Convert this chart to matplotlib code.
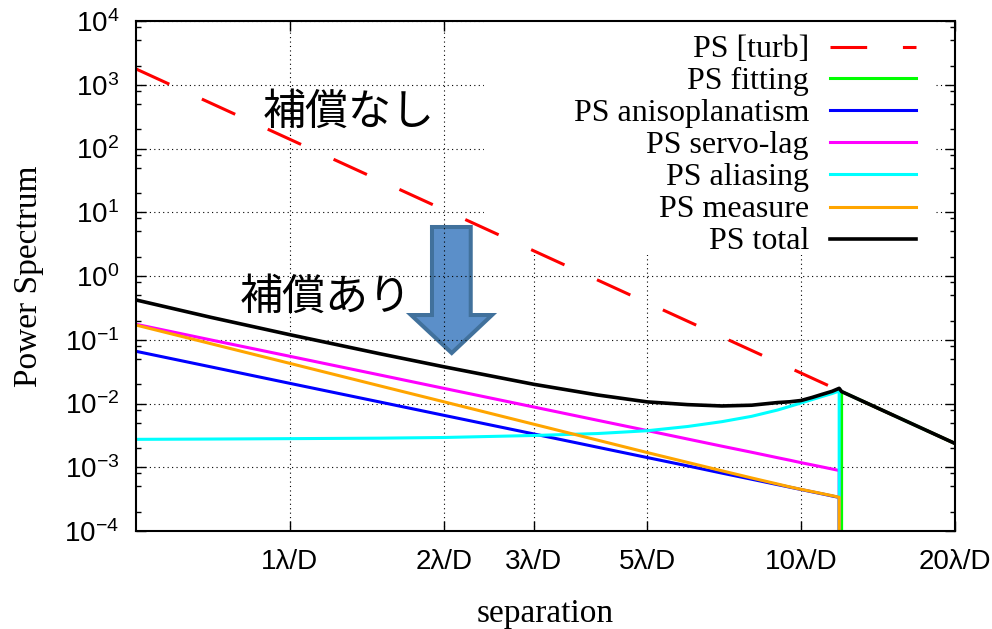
import matplotlib
matplotlib.use("Agg")
import matplotlib.pyplot as plt
from matplotlib.patches import Polygon, Rectangle
from matplotlib.ticker import LogLocator, NullFormatter, NullLocator

# separation in lambda/D
separation = [0.5, 0.7, 1, 1.5, 2, 3, 4, 5, 6, 7, 8, 9, 9.5, 10, 10.5, 11, 11.5, 11.87]
ps_aniso = [0.0659, 0.0376, 0.0207, 0.01055, 0.00653, 0.00333, 0.00206, 0.00142,
            0.00105, 0.000809, 0.000649, 0.000533, 0.000487, 0.000447, 0.000412,
            0.000382, 0.000354, 0.000336]
ps_servo = [0.175, 0.0995, 0.055, 0.028, 0.0173, 0.00881, 0.00545, 0.00376,
            0.00277, 0.00214, 0.00172, 0.00141, 0.00129, 0.00118, 0.00109,
            0.00101, 0.000938, 0.000889]
ps_measure = [0.170, 0.0869, 0.0426, 0.0189, 0.01065, 0.00473, 0.00266, 0.00170,
              0.00119, 0.00088, 0.00068, 0.000545, 0.000492, 0.00045, 0.000416,
              0.000385, 0.000358, 0.000338]
ps_alias = [0.00274, 0.00277, 0.00281, 0.00286, 0.00293, 0.00315, 0.00338, 0.00374,
            0.00436, 0.00519, 0.00629, 0.00791, 0.0090, 0.0102, 0.0115, 0.0129,
            0.01435, 0.0157]

total_x = separation + [12.0, 20]
ps_total = [0.421, 0.225, 0.120, 0.0603, 0.0377, 0.0200, 0.0136, 0.0106,
            0.0096, 0.00915, 0.0094, 0.01035, 0.01064, 0.01115, 0.01242, 0.01394,
            0.01553, 0.0173, 0.0154, 0.00236]

turb_x = [0.5, 20]
ps_turb = [1770, 0.00236]

fit_x = [12.0, 12.0, 20]
ps_floor = 1e-6   # "zero" on a log axis -> drawn down past the bottom
ps_fit = [ps_floor, 0.0154, 0.00236]

xtick_vals = [1, 2, 3, 5, 10, 20]
xtick_labels = ["1λ/D", "2λ/D", "3λ/D", "5λ/D", "10λ/D", "20λ/D"]

labels = ["PS [turb]", "PS fitting", "PS anisoplanatism", "PS servo-lag",
          "PS aliasing", "PS measure", "PS total"]
colors = ["#ff0000", "#00ff00", "#0000ff", "#ff00ff", "#00ffff", "#ffa500", "#000000"]

serif = "Liberation Serif"
sans = "Liberation Sans"
jp = "Noto Sans CJK JP"

fig = plt.figure(figsize=(9.92, 6.29), dpi=100)
ax = fig.add_axes([136 / 992, 1 - 531 / 629, 819 / 992, 510 / 629])
ax.set_xscale("log")
ax.set_yscale("log")
ax.set_xlim(0.5, 20)
ax.set_ylim(1e-4, 1e4)

lw = 2.2
dash = (12, 11.7)
ax.plot(turb_x, ps_turb, color=colors[0], lw=lw, dashes=dash, zorder=2)
ax.plot(fit_x, ps_fit, color=colors[1], lw=lw, zorder=2)
ax.plot(separation + [separation[-1]], ps_aniso + [ps_floor], color=colors[2], lw=lw, zorder=2)
ax.plot(separation + [separation[-1]], ps_servo + [ps_floor], color=colors[3], lw=lw, zorder=2)
ax.plot(separation + [separation[-1]], ps_alias + [ps_floor], color=colors[4], lw=lw, zorder=2)
ax.plot(separation + [separation[-1]], ps_measure + [ps_floor], color=colors[5], lw=lw, zorder=2)
ax.plot(total_x, ps_total, color=colors[6], lw=2.6, zorder=2)

# axes, ticks, grid
ax.set_xticks(xtick_vals, xtick_labels)
ax.xaxis.set_minor_locator(NullLocator())
ax.yaxis.set_major_locator(LogLocator(base=10, numticks=20))
ax.yaxis.set_minor_locator(LogLocator(base=10, subs=(2, 5, 8), numticks=20))
ax.yaxis.set_minor_formatter(NullFormatter())
ax.tick_params(which="both", direction="in", top=True, right=True, width=1,
               labelsize=20, labelfontfamily=sans)
ax.tick_params(which="major", length=7)
ax.tick_params(which="minor", length=3.5)
ax.tick_params(axis="x", pad=13)
ax.tick_params(axis="y", pad=12)
for s in ax.spines.values():
    s.set_linewidth(1.5)
ax.set_axisbelow(True)
ax.grid(True, which="major", color="black", lw=0.8, ls=(0, (1, 3)))

# white key area that hides the grid
ax.add_patch(Rectangle((0.425, 0.541), 0.551, 0.459, transform=ax.transAxes,
                       facecolor="white", edgecolor="none", zorder=0.8))

# gnuplot-like key: text right-aligned, sample to the right
row_px = [46.7, 78.3, 110.3, 142.3, 174.3, 206.7, 238.7]
for i, lab in enumerate(labels):
    yf = (531 - row_px[i]) / 510
    ax.text(0.8217, yf - 0.021, lab, transform=ax.transAxes, ha="right",
            va="baseline", fontsize=23, family=serif, zorder=5)
    kw = dict(dashes=dash) if i == 0 else {}
    ax.plot([0.8474, 0.9524], [yf, yf], transform=ax.transAxes, color=colors[i],
            lw=2.6 if i == 6 else lw, zorder=5, **kw)

ax.set_xlabel("separation", fontsize=24, family=serif, va="baseline")
ax.xaxis.set_label_coords(0.5, -0.178)
ax.set_ylabel("Power Spectrum", fontsize=24, family=serif, va="baseline")
ax.yaxis.set_label_coords(-0.121, 0.5)

# annotations
ax.text(0.260, 0.8206, "補償なし", transform=ax.transAxes, ha="center",
        va="center", fontsize=31, family=jp, zorder=6)
ax.text(0.232, 0.458, "補償あり", transform=ax.transAxes, ha="center",
        va="center", fontsize=31, family=jp, zorder=6)

arrow_pts = [(0.3614, 0.5961), (0.4087, 0.5961), (0.4087, 0.4235), (0.4347, 0.4235),
             (0.3855, 0.3490), (0.3358, 0.4235), (0.3614, 0.4235)]
ax.add_patch(Polygon(arrow_pts, closed=True, transform=ax.transAxes,
                     facecolor="#5b8fc9", edgecolor="#41719c", lw=2.9, zorder=0.3))

fig.savefig("out.png", dpi=100)
